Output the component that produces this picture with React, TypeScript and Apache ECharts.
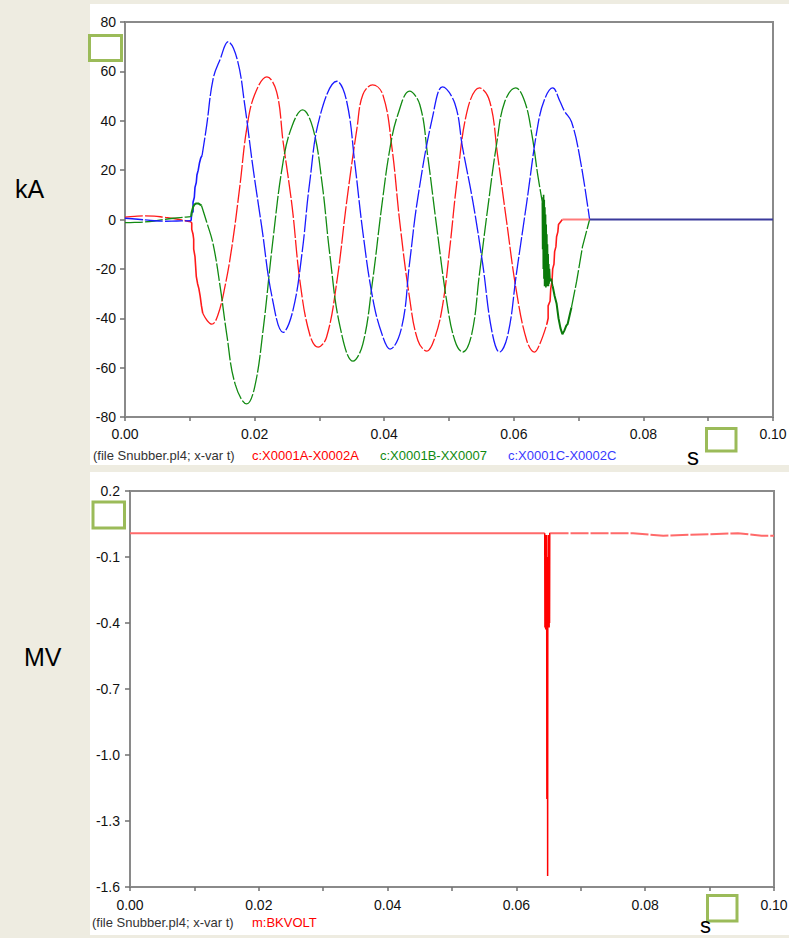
import React, { useEffect, useRef } from "react";
import * as echarts from "echarts";

// ---------- axis ranges [min, max, interval] ----------
const timeRange = [0, 0.1, 0.02];
const kaRange = [-80, 80, 20];
const mvRange = [-1.6, 0.2, 0.3];

// ---------- captions ----------
const fileCaption = "(file Snubber.pl4; x-var t)";
const topLegend = ["c:X0001A-X0002A", "c:X0001B-XX0007", "c:X0001C-X0002C"];
const bottomLegend = ["m:BKVOLT"];

// ---------- phase A (red) current, kA ----------
const aPre = [[0, 1.0], [0.0015, 1.3], [0.003, 1.5], [0.0045, 1.4], [0.006, 0.9], [0.0075, 0.4], [0.009, -0.3], [0.0102, -1.0]];
const aFaultSteps = [[0.0102, -1.0], [0.0103, -1.5], [0.0103, -4], [0.0105, -6], [0.0106, -8], [0.0106, -12], [0.0108, -15], [0.0109, -19], [0.011, -23], [0.0112, -26], [0.0114, -28], [0.0116, -31], [0.0118, -35], [0.012, -38]];
const aWave = [[0.012, -38], [0.0127, -41], [0.0134, -42.4], [0.0143, -39], [0.0154, -27.5], [0.0165, -11], [0.0177, 13], [0.0188, 37], [0.02, 50.5], [0.0219, 57.8], [0.0234, 51.7], [0.0244, 31.5], [0.0258, 5], [0.027, -25], [0.0285, -46.5], [0.0298, -51.7], [0.0311, -47.7], [0.0327, -25], [0.0342, 7], [0.0358, 37], [0.0367, 50.5], [0.0382, 54.5], [0.0398, 50.5], [0.0412, 29], [0.0424, -1], [0.0439, -31.5], [0.0452, -49], [0.0466, -53.3], [0.0478, -48], [0.049, -35], [0.0501, -12], [0.0513, 17], [0.0529, 45], [0.0547, 53.3], [0.0563, 47.7], [0.0575, 26], [0.0589, -1], [0.0604, -29], [0.062, -49], [0.0632, -53.7], [0.064, -50.5], [0.0651, -42.4]];
const aClearSteps = [[0.0651, -42.4], [0.0653, -40], [0.0653, -35], [0.0656, -33], [0.0657, -28], [0.0659, -25], [0.066, -20], [0.0662, -18], [0.0663, -13], [0.0665, -11], [0.0666, -7], [0.0668, -5], [0.0669, -2], [0.0672, -1], [0.0675, 0]];
const aZero = [[0.0675, 0], [0.0717, 0]];

// ---------- phase B (green) current, kA ----------
const bPre = [[0, -1.3], [0.0015, -1.2], [0.003, -1.0], [0.0045, -0.6], [0.006, 0.0], [0.0075, 0.5], [0.009, 0.9], [0.0102, 1.2]];
const bFaultSteps = [[0.0102, 1.2], [0.0103, 3], [0.0105, 5], [0.0107, 6], [0.011, 6.5], [0.0113, 6.5], [0.0116, 6], [0.0118, 5.7]];
const bWave = [[0.0118, 5.7], [0.0126, -1], [0.0136, -10], [0.0147, -27.5], [0.0157, -46.5], [0.017, -66.7], [0.0188, -74.7], [0.02, -68], [0.0213, -45], [0.0228, -9], [0.0244, 23.4], [0.0258, 38], [0.0274, 44.4], [0.029, 37], [0.0304, 15], [0.0316, -14], [0.0332, -43.6], [0.0352, -57.4], [0.0367, -50.5], [0.0382, -25], [0.0396, 5], [0.0409, 29], [0.0421, 42.4], [0.0439, 52], [0.0455, 46.5], [0.0467, 26], [0.0481, -3], [0.0497, -34], [0.0509, -49], [0.0521, -53.7], [0.0535, -46.5], [0.0547, -22], [0.056, 5], [0.0574, 31.5], [0.0586, 47.7], [0.0603, 53.3], [0.0617, 47.7], [0.0628, 34.3], [0.0637, 18], [0.0644, 7]];
const bNoise = [[0.0644, 7], [0.06445, -12], [0.0645, 9], [0.06455, -20], [0.0646, 10], [0.06465, -24], [0.0647, 8], [0.06475, -27], [0.0648, 5], [0.06485, -26], [0.0649, 2], [0.06495, -27.5], [0.065, -2], [0.06505, -25], [0.0651, -6], [0.06515, -27], [0.0652, -10], [0.06525, -26], [0.0653, -14], [0.06535, -27], [0.0654, -18], [0.06545, -26], [0.0655, -20], [0.0656, -25], [0.0658, -24], [0.066, -27]];
const bTail = [[0.066, -27], [0.0663, -31], [0.0666, -34], [0.0669, -40], [0.0672, -44], [0.0675, -46.5], [0.0678, -45], [0.0681, -43], [0.0683, -42.4], [0.0686, -39], [0.0689, -35.6]];
const bEnd = [[0.0689, -35.6], [0.0697, -25], [0.0706, -11], [0.0717, 0]];

// ---------- phase C (blue) current, kA ----------
const cPre = [[0, 0.5], [0.002, 0.1], [0.004, -0.4], [0.006, -0.7], [0.008, -0.6], [0.0102, -0.5]];
const cFaultSteps = [[0.0102, -0.5], [0.0103, 3], [0.0105, 3], [0.0105, 7], [0.0107, 9], [0.0108, 13], [0.011, 15], [0.0111, 18], [0.0113, 20], [0.0115, 23], [0.0117, 25], [0.0119, 26]];
const cWave = [[0.0119, 26], [0.0126, 38], [0.0136, 57], [0.0147, 65], [0.0159, 72], [0.0173, 65], [0.0185, 46], [0.0197, 22], [0.0211, -3], [0.0227, -31.5], [0.0244, -45.7], [0.0259, -37], [0.0273, -14], [0.0285, 15], [0.0301, 42], [0.0327, 56], [0.0342, 48], [0.0355, 22], [0.0367, -5], [0.0382, -31.5], [0.0396, -46], [0.0409, -52.5], [0.0427, -43.6], [0.0439, -18], [0.0452, 9], [0.0475, 42], [0.049, 53.7], [0.0509, 47], [0.0521, 29], [0.0537, 7], [0.0552, -18], [0.0566, -45], [0.0578, -53.7], [0.0591, -46.5], [0.0604, -22], [0.062, 7], [0.0637, 38], [0.0648, 49], [0.066, 53.3], [0.0671, 48], [0.0678, 44], [0.0689, 39.6], [0.0702, 25], [0.0717, 0]];
const cZero = [[0.0717, 0], [0.1, 0]];

// ---------- breaker voltage, MV ----------
const vBefore = [[0, 0.008], [0.0644, 0.008]];
const vSpike = [[0.0644, 0.008], [0.06443, -0.42], [0.06446, 0], [0.06449, -0.41], [0.06452, 0], [0.06455, -0.43], [0.06458, 0], [0.06461, -0.42], [0.06464, 0], [0.06467, -0.43], [0.0647, -0.1], [0.06473, -1.2], [0.06476, -0.2], [0.06479, -1.18], [0.06482, -0.3], [0.06485, -1.55], [0.06488, -0.2], [0.06491, -0.42], [0.06494, 0], [0.06497, -0.42], [0.065, 0], [0.06503, -0.41], [0.06506, 0], [0.06509, -0.42], [0.06512, 0], [0.06515, -0.4], [0.06518, 0.008], [0.0653, 0.008]];
const vAfter = [[0.0653, 0.008], [0.0781, 0.008], [0.0828, -0.003], [0.0944, 0.008], [0.0981, -0.003], [0.1, -0.003]];

const FONT = "'Liberation Sans', Arial, Helvetica, sans-serif";
const RED = "#ff1a1a";
const GREEN = "#128a12";
const BLUE = "#1a1aff";
const AXIS = "#8a8a8a";
const DASH = [18, 2];

type Seg = { data: number[][]; color: string; width: number; dashed: boolean; smooth: boolean; g: number };

const segs: Seg[] = [
  { data: aPre, color: RED, width: 1.3, dashed: true, smooth: true, g: 0 },
  { data: bPre, color: GREEN, width: 1.3, dashed: true, smooth: true, g: 0 },
  { data: cPre, color: BLUE, width: 1.3, dashed: true, smooth: true, g: 0 },
  { data: aWave, color: RED, width: 1.3, dashed: true, smooth: true, g: 0 },
  { data: bWave, color: GREEN, width: 1.3, dashed: true, smooth: true, g: 0 },
  { data: cWave, color: BLUE, width: 1.3, dashed: true, smooth: true, g: 0 },
  { data: aFaultSteps, color: RED, width: 1.6, dashed: false, smooth: false, g: 0 },
  { data: cFaultSteps, color: BLUE, width: 1.6, dashed: false, smooth: false, g: 0 },
  { data: bFaultSteps, color: GREEN, width: 2, dashed: false, smooth: false, g: 0 },
  { data: aClearSteps, color: RED, width: 1.6, dashed: false, smooth: false, g: 0 },
  { data: bNoise, color: "#0a7a0a", width: 1.6, dashed: false, smooth: false, g: 0 },
  { data: bTail, color: "#0a7a0a", width: 2, dashed: false, smooth: false, g: 0 },
  { data: bEnd, color: GREEN, width: 1.3, dashed: true, smooth: false, g: 0 },
  { data: aZero, color: "#ff7a7a", width: 2, dashed: false, smooth: false, g: 0 },
  { data: cZero, color: "#3a3a9c", width: 2.2, dashed: false, smooth: false, g: 0 },
  { data: vBefore, color: "#ff6a6a", width: 2, dashed: false, smooth: false, g: 1 },
  { data: vAfter, color: "#ff6a6a", width: 2, dashed: true, smooth: false, g: 1 },
  { data: vSpike, color: "#ff0000", width: 1.5, dashed: false, smooth: false, g: 1 },
];

function mkX(g: number, margin: number) {
  return {
    type: "value",
    gridIndex: g,
    min: timeRange[0],
    max: timeRange[1],
    interval: timeRange[2],
    axisLine: { show: true, onZero: false, lineStyle: { color: AXIS, width: 2 } },
    axisTick: { show: true, length: 4, lineStyle: { color: "#707070", width: 1.5 } },
    minorTick: { show: true, splitNumber: 2, length: 4, lineStyle: { color: "#707070", width: 1.5 } },
    splitLine: { show: false },
    minorSplitLine: { show: false },
    axisLabel: {
      fontSize: 14,
      color: "#111111",
      fontFamily: FONT,
      margin,
      hideOverlap: false,
      formatter: (v: number) => v.toFixed(2),
    },
  };
}

function mkY(g: number, range: number[], digits: number, margin: number) {
  return {
    type: "value",
    gridIndex: g,
    min: range[0],
    max: range[1],
    interval: range[2],
    axisLine: { show: true, onZero: false, lineStyle: { color: AXIS, width: 2 } },
    axisTick: { show: true, length: 5, lineStyle: { color: "#707070", width: 1.5 } },
    splitLine: { show: false },
    axisLabel: {
      fontSize: 14,
      color: "#111111",
      fontFamily: FONT,
      margin,
      hideOverlap: false,
      formatter: (v: number) => v.toFixed(digits),
    },
  };
}

function greenBox(x: number, y: number, w: number, h: number) {
  return {
    type: "rect",
    z: 20,
    shape: { x, y, width: w, height: h },
    style: { fill: "#ffffff", stroke: "#9bbb59", lineWidth: 3 },
  };
}

function label(text: string, x: number, y: number, size: number, color: string, family = FONT) {
  return {
    type: "text",
    z: 20,
    x,
    y,
    style: { text, fontSize: size, fontFamily: family, fill: color, verticalAlign: "middle", align: "left" },
  };
}

export default function App() {
  const ref = useRef<HTMLDivElement>(null);

  useEffect(() => {
    document.body.style.margin = "0";
    if (!ref.current) return;
    const chart = echarts.init(ref.current, null, { renderer: "svg" });

    const option: any = {
      animation: false,
      backgroundColor: "transparent",
      grid: [
        { left: 125, top: 22, width: 648, height: 395, show: true, borderColor: AXIS, borderWidth: 2, backgroundColor: "transparent", containLabel: false, outerBoundsMode: "none" },
        { left: 130, top: 491, width: 644, height: 396, show: true, borderColor: AXIS, borderWidth: 2, backgroundColor: "transparent", containLabel: false, outerBoundsMode: "none" },
      ],
      xAxis: [mkX(0, 10), mkX(1, 11)],
      yAxis: [mkY(0, kaRange, 0, 9), mkY(1, mvRange, 1, 10)],
      graphic: [
        { type: "rect", z: -10, shape: { x: 90, y: 4, width: 699, height: 461 }, style: { fill: "#ffffff" } },
        { type: "rect", z: -10, shape: { x: 90, y: 472, width: 699, height: 463 }, style: { fill: "#ffffff" } },
        greenBox(89.5, 35.5, 32, 25),
        greenBox(706.5, 428.5, 29.5, 22.5),
        greenBox(93, 502, 31.5, 26),
        greenBox(707.5, 895.5, 29.5, 25.5),
        label("kA", 15, 189, 25, "#000000"),
        label("MV", 24, 657, 25, "#000000"),
        label("s", 687, 456, 24, "#000000"),
        label("s", 700, 925, 22, "#000000"),
        label(fileCaption, 93, 455, 13, "#333333"),
        label(topLegend[0], 252, 455, 13, "#ff0000"),
        label(topLegend[1], 380, 455, 13, "#108a10"),
        label(topLegend[2], 508, 455, 13, "#3a3aff"),
        label(fileCaption, 92, 922, 13, "#333333"),
        label(bottomLegend[0], 252, 922, 13, "#ff0000"),
      ],
      series: segs.map((s) => ({
        type: "line",
        xAxisIndex: s.g,
        yAxisIndex: s.g,
        data: s.data,
        showSymbol: false,
        symbol: "none",
        silent: true,
        smooth: s.smooth ? 0.4 : false,
        lineStyle: { color: s.color, width: s.width, type: s.dashed ? DASH : "solid" },
      })),
    };

    chart.setOption(option);
    return () => chart.dispose();
  }, []);

  return <div ref={ref} style={{ width: 789, height: 938, background: "#eeece1" }} />;
}
